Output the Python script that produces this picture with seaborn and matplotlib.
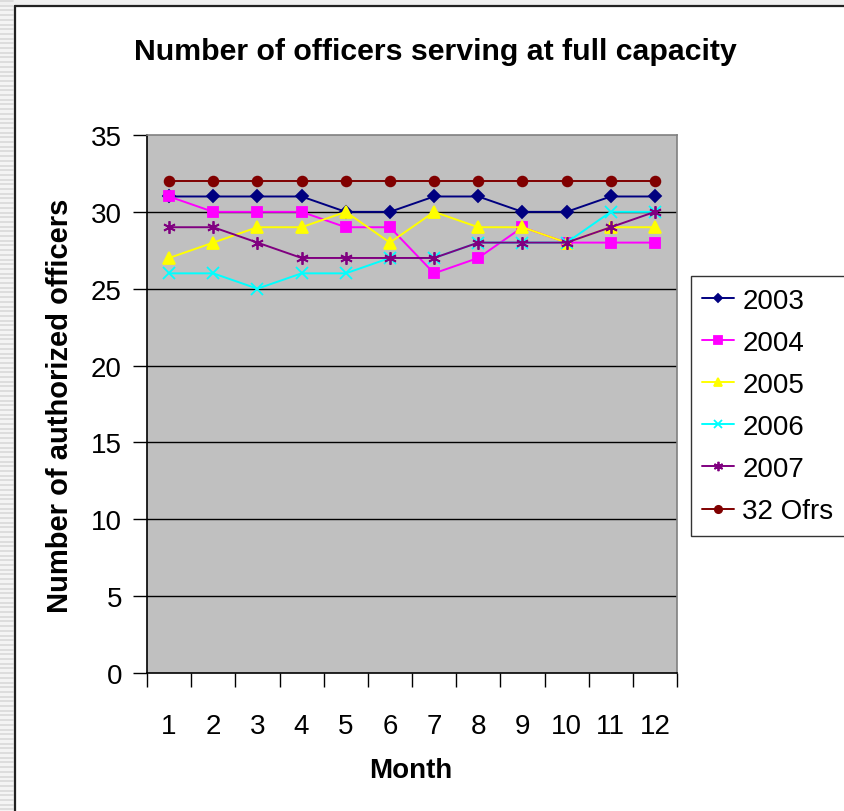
import matplotlib
matplotlib.use("Agg")
import matplotlib.pyplot as plt
import seaborn as sns
import numpy as np
from matplotlib.lines import Line2D
from matplotlib.patches import Rectangle

months = [1, 2, 3, 4, 5, 6, 7, 8, 9, 10, 11, 12]
y2003 = [31, 31, 31, 31, 30, 30, 31, 31, 30, 30, 31, 31]
y2004 = [31, 30, 30, 30, 29, 29, 26, 27, 29, 28, 28, 28]
y2005 = [27, 28, 29, 29, 30, 28, 30, 29, 29, 28, 29, 29]
y2006 = [26, 26, 25, 26, 26, 27, 27, 28, 28, 28, 30, 30]
y2007 = [29, 29, 28, 27, 27, 27, 27, 28, 28, 28, 29, 30]
y32 = [32, 32, 32, 32, 32, 32, 32, 32, 32, 32, 32, 32]
series_names = ["2003", "2004", "2005", "2006", "2007", "32 Ofrs"]
series_values = [y2003, y2004, y2005, y2006, y2007, y32]
colors = ["#000080", "#FF00FF", "#FFFF00", "#00FFFF", "#800080", "#800000"]
markers = ["D", "s", "^", "x", (6, 2, 0), "o"]
msizes = [6, 7, 8, 8, 9, 7]

sns.set_style("white")
plt.rcParams["font.family"] = ["Liberation Sans", "DejaVu Sans"]
for k in ["text.color", "axes.labelcolor", "xtick.color", "ytick.color"]:
    plt.rcParams[k] = "black"

fig = plt.figure(figsize=(8.44, 8.12), dpi=100)
fig.patch.set_facecolor("white")
W, H = 844, 812

# left striped margin and top strip
fig.add_artist(Rectangle((0, 0), 14 / W, 1, transform=fig.transFigure,
                         facecolor="#f4f4f4", edgecolor="none", zorder=0))
fig.add_artist(Rectangle((0, 1 - 6 / H), 1, 6 / H, transform=fig.transFigure,
                         facecolor="#f0f0f0", edgecolor="none", zorder=0))
for yy in np.arange(2, H, 4.7):
    fig.add_artist(Line2D([0, 13 / W], [1 - yy / H, 1 - yy / H], transform=fig.transFigure,
                          color="#d9d9d9", lw=1.2, zorder=0))
# chart frame
fig.add_artist(Line2D([14.5 / W, 14.5 / W], [0, 1 - 6.5 / H], transform=fig.transFigure,
                      color="#222222", lw=1.6))
fig.add_artist(Line2D([14.5 / W, 1], [1 - 6.5 / H, 1 - 6.5 / H], transform=fig.transFigure,
                      color="#222222", lw=1.6))

ax = fig.add_axes([147 / W, 1 - 674 / H, (677 - 147) / W, (674 - 136) / H])
ax.set_facecolor("#C0C0C0")

for name, vals, c, m, ms in zip(series_names, series_values, colors, markers, msizes):
    sns.lineplot(x=months, y=vals, ax=ax, color=c, marker=m, markersize=ms,
                 markeredgecolor=c, markerfacecolor=c, markeredgewidth=1.3,
                 linewidth=1.4, label=name, zorder=3)

ax.set_xlim(0.5, 12.5)
ax.set_ylim(0, 35)
ax.set_yticks(range(0, 36, 5))
ax.set_xticks(months)
ax.set_xticks(np.arange(0.5, 12.6, 1), minor=True)
ax.tick_params(axis="x", which="major", length=0, labelsize=20, pad=29)
ax.tick_params(axis="x", which="minor", length=10, width=1, color="black", direction="out", bottom=True)
ax.tick_params(axis="y", which="major", length=10, width=1, color="black", direction="out",
               labelsize=20, left=True, pad=8)
for yv in range(5, 35, 5):
    ax.axhline(yv, color="black", lw=1, zorder=1)
for s in ["left", "bottom"]:
    ax.spines[s].set_color("black")
    ax.spines[s].set_linewidth(1.2)
for s in ["top", "right"]:
    ax.spines[s].set_color("#808080")
    ax.spines[s].set_linewidth(1.2)

ax.set_xlabel("")
ax.set_ylabel("")
fig.text(411 / W, 1 - 771 / H, "Month", ha="center", va="center",
         fontsize=20, fontweight="bold")
fig.text(60 / W, 1 - 406 / H, "Number of authorized officers", ha="center", va="center",
         rotation=90, fontsize=21, fontweight="bold")
fig.text(435 / W, 1 - 52 / H, "Number of officers serving at full capacity",
         ha="center", va="center", fontsize=21.8, fontweight="bold")

leg = ax.legend(loc="upper left", bbox_to_anchor=(690.5 / W, 1 - 277 / H),
                bbox_transform=fig.transFigure, fontsize=20, frameon=True,
                fancybox=False, edgecolor="black", handlelength=1.15,
                handletextpad=0.3, labelspacing=0.58, borderpad=0.42,
                borderaxespad=0, markerscale=0.75)
leg.get_frame().set_linewidth(1)

fig.savefig("out.png", dpi=100)
